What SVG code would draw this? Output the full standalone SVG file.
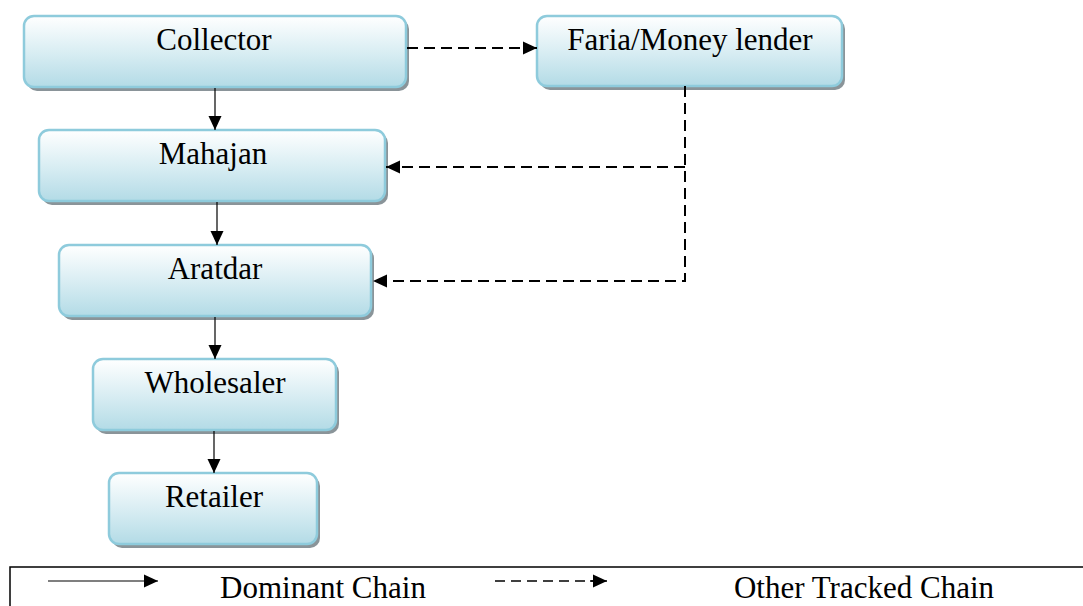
<svg xmlns="http://www.w3.org/2000/svg" width="1083" height="606" viewBox="0 0 1083 606">
<style>
.box{stroke:#8ecbdc;stroke-width:2.5;fill:url(#g)}
.sh{fill:#8a9499}
.lbl{font-family:"Liberation Serif","Times New Roman",serif;font-size:31px;fill:#000;text-anchor:middle}
.solid{stroke:#000;stroke-width:1.2;fill:none}
.dash{stroke:#000;stroke-width:2;fill:none;stroke-dasharray:11 6}
</style>
<defs>
<linearGradient id="g" x1="0" y1="0" x2="0" y2="1">
<stop offset="0" stop-color="#ffffff"/>
<stop offset="0.55" stop-color="#d6ecf2"/>
<stop offset="1" stop-color="#b3dbe6"/>
</linearGradient>
<marker id="ah" markerWidth="14" markerHeight="14" refX="14" refY="7" orient="auto" markerUnits="userSpaceOnUse">
<path d="M0,0.5 L14,7 L0,13.5 Z" fill="#000"/>
</marker>
</defs>
<rect x="10" y="567" width="1080" height="50" fill="#fff" stroke="#000" stroke-width="1.5"/>
<g id="collector">
<rect class="sh" x="27" y="19" width="382" height="72" rx="10"/>
<rect class="box" x="24" y="16" width="382" height="71" rx="10"/>
<text class="lbl" x="214" y="50">Collector</text>
</g>
<g id="faria">
<rect class="sh" x="540" y="19" width="305" height="71" rx="10"/>
<rect class="box" x="537" y="16" width="305" height="70" rx="10"/>
<text class="lbl" x="690" y="50">Faria/Money lender</text>
</g>
<g id="mahajan">
<rect class="sh" x="42" y="133" width="346" height="72" rx="10"/>
<rect class="box" x="39" y="130" width="346" height="71" rx="10"/>
<text class="lbl" x="213" y="164">Mahajan</text>
</g>
<g id="aratdar">
<rect class="sh" x="62" y="248" width="312" height="72" rx="10"/>
<rect class="box" x="59" y="245" width="312" height="71" rx="10"/>
<text class="lbl" x="215" y="279">Aratdar</text>
</g>
<g id="wholesaler">
<rect class="sh" x="96" y="362" width="243" height="72" rx="10"/>
<rect class="box" x="93" y="359" width="243" height="71" rx="10"/>
<text class="lbl" x="215" y="393">Wholesaler</text>
</g>
<g id="retailer">
<rect class="sh" x="112" y="476" width="208" height="72" rx="10"/>
<rect class="box" x="109" y="473" width="208" height="71" rx="10"/>
<text class="lbl" x="214" y="507">Retailer</text>
</g>
<g id="connectors">
<line class="solid" x1="215" y1="88" x2="215" y2="130" marker-end="url(#ah)"/>
<line class="solid" x1="217" y1="202" x2="217" y2="245" marker-end="url(#ah)"/>
<line class="solid" x1="215" y1="317" x2="215" y2="359" marker-end="url(#ah)"/>
<line class="solid" x1="214" y1="431" x2="214" y2="473" marker-end="url(#ah)"/>
<line class="dash" x1="407" y1="48" x2="537" y2="48" marker-end="url(#ah)"/>
<path class="dash" d="M685,86 V281 H373" marker-end="url(#ah)"/>
<path class="dash" d="M685,167 H386" marker-end="url(#ah)"/>
</g>
<g id="legend">
<line class="solid" x1="48" y1="581" x2="158" y2="581" stroke-width="1.5" marker-end="url(#ah)"/>
<text class="lbl" x="323" y="598">Dominant Chain</text>
<line x1="495" y1="581" x2="595" y2="581" stroke="#000" stroke-width="1.5" stroke-dasharray="10 6"/>
<line x1="590" y1="581" x2="607" y2="581" stroke="#000" stroke-width="1.5" marker-end="url(#ah)"/>
<text class="lbl" x="864" y="598">Other Tracked Chain</text>
</g>
</svg>
